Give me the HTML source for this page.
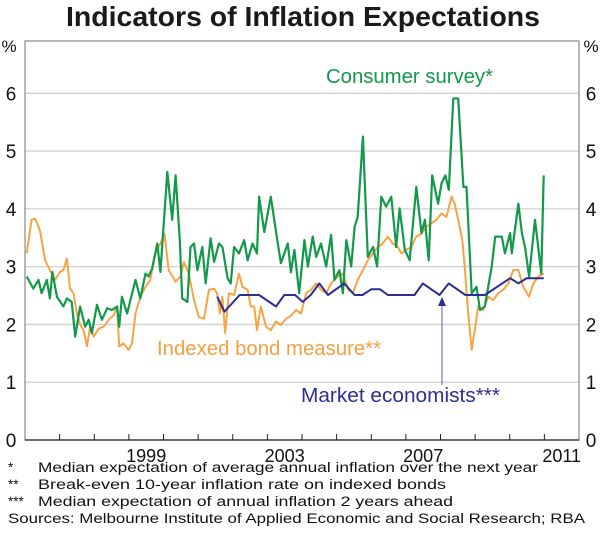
<!DOCTYPE html>
<html><head><meta charset="utf-8"><style>
body{margin:0;background:#fff;font-family:"Liberation Sans",Arial,sans-serif}
svg text{font-family:"Liberation Sans",Arial,sans-serif}
</style></head><body>
<svg width="600" height="542" viewBox="0 0 600 542">
<text x="66" y="26" font-size="28" font-weight="bold" fill="#1a1a1a" textLength="474" lengthAdjust="spacingAndGlyphs">Indicators of Inflation Expectations</text>
<g id="grid"></g>
<rect x="25" y="41" width="554" height="399" fill="none" stroke="#888" stroke-width="1.2"/>
<g id="axes"></g>
<g id="series"></g>
<text x="326" y="83" font-size="20" fill="#12994a" textLength="167" lengthAdjust="spacingAndGlyphs">Consumer survey*</text>
<text x="157" y="355" font-size="20" fill="#f5a040" textLength="224" lengthAdjust="spacingAndGlyphs">Indexed bond measure**</text>
<text x="301" y="402" font-size="20" fill="#2b2f91" textLength="199" lengthAdjust="spacingAndGlyphs">Market economists***</text>
<line x1="442" y1="385" x2="442" y2="304" stroke="#7077b8" stroke-width="1.2"/>
<polygon points="442,297 438,306 446,306" fill="#2b2f91"/>
<g font-size="13.5" fill="#111">
<text x="8" y="472">*</text><text x="38" y="472" textLength="500" lengthAdjust="spacingAndGlyphs">Median expectation of average annual inflation over the next year</text>
<text x="8" y="489">**</text><text x="38" y="489" textLength="408" lengthAdjust="spacingAndGlyphs">Break-even 10-year inflation rate on indexed bonds</text>
<text x="8" y="506">***</text><text x="38" y="506" textLength="415" lengthAdjust="spacingAndGlyphs">Median expectation of annual inflation 2 years ahead</text>
<text x="8" y="523" textLength="577" lengthAdjust="spacingAndGlyphs">Sources: Melbourne Institute of Applied Economic and Social Research; RBA</text>
</g>
</svg>
<script>
const yTicks=[0,1,2,3,4,5,6];
const xLabels=[1999,2003,2007,2011];
const consDates=[1996.05,1996.24,1996.39,1996.48,1996.63,1996.72,1996.79,1996.92,1997.11,1997.21,1997.35,1997.45,1997.59,1997.74,1997.84,1997.93,1998.08,1998.22,1998.37,1998.51,1998.66,1998.72,1998.80,1998.95,1999.19,1999.33,1999.48,1999.57,1999.67,1999.82,1999.91,2000.11,2000.25,2000.35,2000.47,2000.54,2000.69,2000.78,2000.88,2000.98,2001.12,2001.22,2001.36,2001.46,2001.60,2001.70,2001.85,2001.94,2002.04,2002.18,2002.33,2002.43,2002.57,2002.70,2002.76,2002.91,2003.10,2003.30,2003.39,2003.59,2003.68,2003.78,2003.92,2004.07,2004.17,2004.31,2004.41,2004.55,2004.70,2004.84,2004.94,2005.08,2005.18,2005.28,2005.42,2005.52,2005.61,2005.76,2005.90,2006.05,2006.17,2006.29,2006.43,2006.58,2006.72,2006.82,2006.97,2007.11,2007.30,2007.45,2007.55,2007.66,2007.76,2007.93,2008.03,2008.14,2008.24,2008.37,2008.51,2008.66,2008.75,2008.90,2009.04,2009.14,2009.28,2009.48,2009.58,2009.77,2009.86,2010.01,2010.06,2010.25,2010.35,2010.44,2010.56,2010.73,2010.91,2010.98];
const consVals=[2.83,2.62,2.77,2.54,2.77,2.45,2.91,2.48,2.31,2.45,2.39,1.79,2.31,1.96,2.08,1.85,2.34,2.08,2.28,2.25,2.31,1.96,2.48,2.19,2.77,2.45,2.88,2.83,2.97,3.40,2.91,4.64,3.81,4.58,3.46,2.45,2.39,3.34,3.40,2.94,3.34,2.71,3.49,3.08,3.40,3.34,2.80,2.71,3.34,3.23,3.46,3.11,3.40,3.23,4.21,3.60,4.21,3.40,3.06,3.40,2.9,3.29,2.54,3.46,3.0,3.52,3.17,3.40,3.0,3.55,2.77,2.94,2.54,3.46,3.0,3.69,3.86,5.25,3.17,3.34,3.0,4.21,4.04,4.21,3.34,4.01,3.29,3.11,4.38,3.58,3.81,3.11,4.58,4.09,4.44,4.58,4.33,5.91,5.91,4.38,4.38,2.54,2.65,2.25,2.31,3.0,3.52,3.52,3.23,3.58,3.23,4.09,3.58,3.34,2.83,3.81,2.88,4.58];
const bondDates=[1996.05,1996.19,1996.29,1996.43,1996.58,1996.72,1996.87,1997.01,1997.11,1997.21,1997.30,1997.40,1997.50,1997.59,1997.69,1997.79,1997.88,1997.98,1998.13,1998.27,1998.42,1998.56,1998.66,1998.72,1998.85,1998.99,1999.09,1999.19,1999.33,1999.48,1999.62,1999.77,1999.91,2000.03,2000.15,2000.35,2000.49,2000.59,2000.73,2000.88,2001.02,2001.17,2001.31,2001.46,2001.55,2001.63,2001.70,2001.78,2001.89,2002.04,2002.18,2002.28,2002.43,2002.52,2002.62,2002.70,2002.81,2002.96,2003.10,2003.25,2003.39,2003.54,2003.68,2003.83,2003.97,2004.12,2004.26,2004.41,2004.55,2004.70,2004.84,2005.03,2005.18,2005.33,2005.47,2005.61,2005.76,2005.90,2006.05,2006.19,2006.33,2006.48,2006.62,2006.77,2006.87,2007.01,2007.16,2007.30,2007.45,2007.59,2007.74,2007.88,2008.03,2008.17,2008.32,2008.41,2008.51,2008.63,2008.70,2008.80,2008.90,2008.99,2009.09,2009.23,2009.38,2009.52,2009.67,2009.81,2009.96,2010.10,2010.25,2010.39,2010.56,2010.68,2010.83,2010.98];
const bondVals=[3.23,3.81,3.83,3.63,3.11,2.94,2.77,2.91,2.94,3.14,2.62,2.54,2.19,2.0,1.90,1.62,1.96,1.79,1.93,1.96,2.08,2.16,2.31,1.62,1.67,1.56,1.67,2.19,2.48,2.65,2.77,3.23,3.40,3.57,2.94,2.74,2.83,3.08,2.88,2.42,2.13,2.10,2.60,2.62,2.54,2.19,2.48,1.85,2.54,2.51,2.88,2.65,2.60,2.31,2.31,1.90,2.31,1.96,1.90,2.05,1.99,2.10,2.15,2.25,2.19,2.54,2.60,2.71,2.60,2.54,2.71,2.83,2.88,2.60,2.54,2.77,2.94,3.11,3.23,3.34,3.40,3.52,3.40,3.34,3.23,3.29,3.34,3.52,3.57,3.69,3.75,3.81,3.92,3.86,4.21,4.09,3.81,3.46,3.0,2.19,1.56,1.90,2.31,2.25,2.48,2.42,2.54,2.60,2.71,2.94,2.94,2.65,2.48,2.71,2.83,2.88];
const mktDates=[2001.55,2001.76,2002.2,2002.76,2003.25,2003.49,2003.8,2004.02,2004.25,2004.50,2004.75,2005.22,2005.52,2005.75,2006.0,2006.25,2006.48,2007.25,2007.49,2007.97,2008.24,2008.72,2009.28,2010.01,2010.25,2010.49,2010.98];
const mktVals=[2.48,2.22,2.51,2.51,2.31,2.51,2.51,2.39,2.51,2.71,2.51,2.71,2.51,2.51,2.61,2.61,2.51,2.51,2.71,2.51,2.71,2.51,2.51,2.80,2.71,2.80,2.80];

const X0=25,X1=579,Y0=440,Y1=93.3;
const xs=d=>X0+(d-1996)*(X1-X0)/16;
const ys=v=>Y0-v*(Y0-Y1)/6;
const NS='http://www.w3.org/2000/svg';
const grid=document.getElementById('grid'),axes=document.getElementById('axes'),ser=document.getElementById('series');
function mk(tag,attrs,parent){const e=document.createElementNS(NS,tag);for(const k in attrs)e.setAttribute(k,attrs[k]);parent.appendChild(e);return e;}
yTicks.forEach(t=>{
  if(t>0){const g=mk('line',{x1:X0,x2:X1,y1:ys(t),y2:ys(t),stroke:'#d0d0d0','stroke-width':1.3},grid);
  
  }
  const l=mk('text',{x:11,y:ys(t)+7,'font-size':19,'text-anchor':'middle',fill:'#111'},axes);l.textContent=t;
  
  
  const r=mk('text',{x:591,y:ys(t)+7,'font-size':19,'text-anchor':'middle',fill:'#111'},axes);r.textContent=t;
  
  
});
['%','%'].forEach((p,i)=>{const e=mk('text',{x:i?591:9,y:52,'font-size':17,'text-anchor':'middle',fill:'#111'},axes);e.textContent=p;
  
  });
for(let yr=1997;yr<2012;yr++){const t=mk('line',{x1:xs(yr),x2:xs(yr),y1:Y0,y2:Y0-6,stroke:'#222','stroke-width':1},axes);
  
  }
mk('line',{x1:X0,x2:X1,y1:Y0,y2:Y0,stroke:'#222','stroke-width':1.2},axes);
xLabels.forEach(y=>{const e=mk('text',{x:xs(y+0.5),y:462,'font-size':18,'text-anchor':'middle',fill:'#111'},axes);e.textContent=y;
  
  });
function line(d,v,col,name,w){const p=d.map((x,i)=>(i?'L':'M')+xs(x).toFixed(1)+','+ys(v[i]).toFixed(1)).join('');
  const e=mk('path',{d:p,fill:'none',stroke:col,'stroke-width':w,'stroke-linejoin':'round'},ser);
  
  }
line(bondDates,bondVals,'#f7a445','indexed-bond-line',2);
line(consDates,consVals,'#12994a','consumer-survey-line',2.2);
line(mktDates,mktVals,'#2b2f91','market-economists-line',2);
</script>
</body></html>
